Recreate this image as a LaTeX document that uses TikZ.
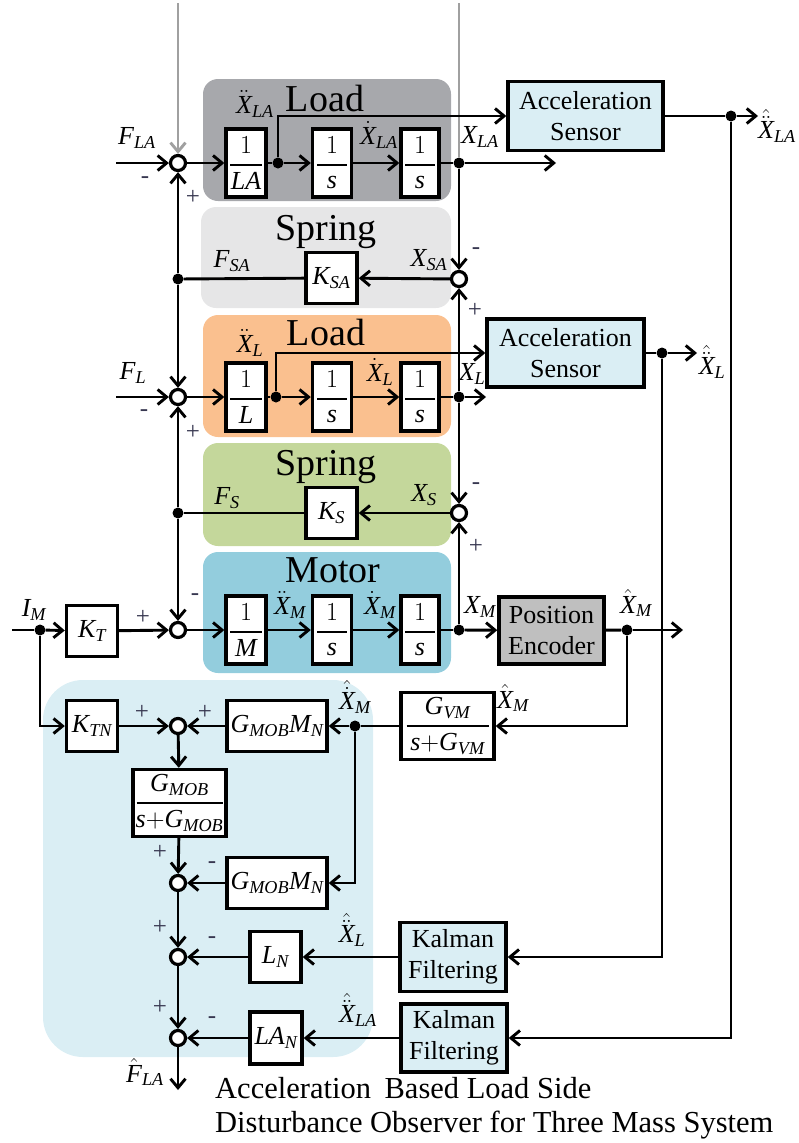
\documentclass[tikz,border=0pt]{standalone}
\usepackage{fix-cm}
\usepackage{fontspec}
\setmainfont{Liberation Serif}
\DeclareSymbolFont{letters}{TU}{\rmdefault}{m}{it}
\usetikzlibrary{arrows.meta}
\definecolor{cLoadA}{RGB}{167,168,172}
\definecolor{cSpringA}{RGB}{230,230,231}
\definecolor{cLoadL}{RGB}{250,192,143}
\definecolor{cSpringS}{RGB}{196,215,155}
\definecolor{cMotor}{RGB}{147,205,221}
\definecolor{cObs}{RGB}{218,238,244}
\definecolor{cSens}{RGB}{218,238,244}
\definecolor{cEnc}{RGB}{191,191,191}
\definecolor{cGrayLn}{RGB}{160,160,160}
\definecolor{cSign}{RGB}{55,55,80}
\newcommand\fr[3]{$\displaystyle{\hbox to#1{\hss$#2$\hss}\above2pt\hbox to#1{\hss$#3$\hss}}$}
\tikzset{
  ln/.style={line width=2.9pt},
  arr/.style={line width=2.9pt, -{Straight Barb[length=9pt,width=15pt]}},
  blk/.style={draw, line width=3.4pt, fill=white, inner sep=0pt, font=\fontsize{26}{30}\selectfont},
  sq/.style={blk, minimum width=51pt, minimum height=51pt},
  fb/.style={blk, minimum width=40pt, minimum height=68pt},
  sumj/.style={circle, draw, line width=3.2pt, fill=white, minimum size=15pt, inner sep=0pt},
  jdot/.style={circle, fill, minimum size=11pt, inner sep=0pt},
  lbl/.style={font=\fontsize{26}{30}\selectfont, inner sep=0pt},
  sgn/.style={font=\fontsize{25}{27}\selectfont, inner sep=0pt, text=cSign},
  ttl/.style={font=\fontsize{38}{40}\selectfont, anchor=base, inner sep=0pt},
  txtbox/.style={blk, align=center, font=\fontsize{26}{31}\selectfont},
}
\begin{document}
\begin{tikzpicture}[x=1pt,y=-1pt]
\useasboundingbox (0,0) rectangle (799,1143);
% coloured regions
\fill[cLoadA, rounded corners=15pt] (203,79) rectangle (451,201);
\fill[cSpringA, rounded corners=15pt] (201,207) rectangle (451,308);
\fill[cLoadL, rounded corners=15pt] (203,315) rectangle (451,437);
\fill[cSpringS, rounded corners=15pt] (203,443) rectangle (451,546);
\fill[cMotor, rounded corners=15pt] (203,552) rectangle (451,673);
\fill[cObs, rounded corners=40pt] (43,680) rectangle (373,1057);
% titles
\node[ttl] (tLA) at (325,111) {Load};
\node[ttl] (tSA) at (326,240) {Spring};
\node[ttl] (tL) at (326,345) {Load};
\node[ttl] (tS) at (326,475) {Spring};
\node[ttl] (tM) at (333,582) {Motor};
% free ends
\coordinate (gA) at (178,3);
\coordinate (gB) at (459,3);
\coordinate (inLA) at (116,163);
\coordinate (oLA) at (556,163);
\coordinate (oS1) at (758,116);
\coordinate (inL) at (116,397);
\coordinate (oL) at (486,397);
\coordinate (oS2) at (697,353);
\coordinate (inM) at (12,630);
\coordinate (oM) at (683,630);
\coordinate (oF) at (178,1090);
% top load row
\node[sumj] (sLA) at (178,163) {};
\node[fb] (bLA) at (246,163) {\fr{32pt}{1}{LA}};
\node[jdot] (dLA1) at (278,163) {};
\node[fb, minimum width=39pt] (bLAs1) at (332,163) {\fr{30pt}{1}{s}};
\node[fb, minimum width=38pt] (bLAs2) at (420,163) {\fr{30pt}{1}{s}};
\node[jdot] (dLA2) at (459,163) {};
\node[txtbox, fill=cSens, minimum width=155pt, minimum height=69pt] (sens1) at (585.5,116) {Acceleration\\Sensor};
\node[jdot] (dS1) at (731,116) {};
% spring A
\node[sumj] (sSA) at (459,279) {};
\node[sq] (KSA) at (331.5,278) {$K_{SA}$};
\node[jdot] (dFSA) at (178,279) {};
% load L row
\node[sumj] (sL) at (178,397) {};
\node[fb] (bL) at (246,397) {\fr{32pt}{1}{L}};
\node[jdot] (dL1) at (276,397) {};
\node[fb, minimum width=39pt] (bLs1) at (332,397) {\fr{30pt}{1}{s}};
\node[fb, minimum width=38pt] (bLs2) at (420,397) {\fr{30pt}{1}{s}};
\node[jdot] (dL2) at (459,397) {};
\node[txtbox, fill=cSens, minimum width=157pt, minimum height=68pt] (sens2) at (565.5,353) {Acceleration\\Sensor};
\node[jdot] (dS2) at (662,353) {};
% spring S
\node[sumj] (sS) at (459,513) {};
\node[sq] (KS) at (331.5,513) {$K_{S}$};
\node[jdot] (dFS) at (178,513) {};
% motor row
\node[jdot] (dIM) at (40,630) {};
\node[sq] (KT) at (92,631) {$K_{T}$};
\node[sumj] (sM) at (178,630) {};
\node[fb] (bM) at (246,630) {\fr{32pt}{1}{M}};
\node[fb, minimum width=39pt] (bMs1) at (332,630) {\fr{30pt}{1}{s}};
\node[fb, minimum width=38pt] (bMs2) at (420,630) {\fr{30pt}{1}{s}};
\node[jdot] (dM) at (459,630) {};
\node[txtbox, fill=cEnc, minimum width=105pt, minimum height=67pt] (enc) at (551.5,630.5) {Position\\Encoder};
\node[jdot] (dXM) at (627,630) {};
% observer
\node[sq] (KTN) at (92,726) {$K_{TN}$};
\node[sumj] (sO1) at (178,726) {};
\node[blk, minimum width=100pt, minimum height=51pt] (GM1) at (277,726) {$G_{MOB}M_N$};
\node[jdot] (dV) at (355,726) {};
\node[blk, minimum width=93pt, minimum height=67pt] (GVM) at (447.5,726) {\fr{82pt}{G_{VM}}{s{+}G_{VM}}};
\node[blk, minimum width=93pt, minimum height=67pt] (GF) at (179.5,803) {\fr{86pt}{G_{MOB}}{s{+}G_{MOB}}};
\node[sumj] (sO2) at (178,883) {};
\node[blk, minimum width=100pt, minimum height=51pt] (GM2) at (277,883) {$G_{MOB}M_N$};
\node[sumj] (sO3) at (178,957) {};
\node[sq] (LN) at (275.5,957) {$L_N$};
\node[txtbox, fill=cSens, minimum width=106pt, minimum height=69pt] (K1) at (453,957) {Kalman\\Filtering};
\node[sumj] (sO4) at (178,1038) {};
\node[sq, minimum width=52pt, minimum height=52pt] (LAN) at (276,1038) {$LA_N$};
\node[txtbox, fill=cSens, minimum width=106pt, minimum height=68pt] (K2) at (454,1038) {Kalman\\Filtering};
% connectors
\draw[arr, cGrayLn] (gA) -- (sLA);
\draw[ln, cGrayLn] (gB) -- (dLA2);
\draw[arr] (inLA) -- (sLA);
\draw[arr] (sLA) -- (bLA);
\draw[ln] (bLA) -- (dLA1);
\draw[arr] (dLA1) -- (bLAs1);
\draw[arr] (bLAs1) -- (bLAs2);
\draw[ln] (bLAs2) -- (dLA2);
\draw[arr] (dLA2) -- (oLA);
\draw[arr] (dLA1) |- (sens1);
\draw[ln] (sens1) -- (dS1);
\draw[arr] (dS1) -- (oS1);
\draw[arr] (dS1) |- (K2);
\draw[arr] (dLA2) -- (sSA);
\draw[arr] (dL2) -- (sSA);
\draw[arr] (sSA) -- (KSA);
\draw[ln] (KSA) -- (dFSA);
\draw[arr] (dFSA) -- (sLA);
\draw[arr] (dFSA) -- (sL);
\draw[arr] (inL) -- (sL);
\draw[arr] (sL) -- (bL);
\draw[ln] (bL) -- (dL1);
\draw[arr] (dL1) -- (bLs1);
\draw[arr] (bLs1) -- (bLs2);
\draw[ln] (bLs2) -- (dL2);
\draw[arr] (dL2) -- (oL);
\draw[arr] (dL1) |- (sens2);
\draw[ln] (sens2) -- (dS2);
\draw[arr] (dS2) -- (oS2);
\draw[arr] (dS2) |- (K1);
\draw[arr] (dL2) -- (sS);
\draw[arr] (dM) -- (sS);
\draw[arr] (sS) -- (KS);
\draw[ln] (KS) -- (dFS);
\draw[arr] (dFS) -- (sL);
\draw[arr] (dFS) -- (sM);
\draw[ln] (inM) -- (dIM);
\draw[arr] (dIM) -- (KT);
\draw[arr] (KT) -- (sM);
\draw[arr] (sM) -- (bM);
\draw[arr] (bM) -- (bMs1);
\draw[arr] (bMs1) -- (bMs2);
\draw[ln] (bMs2) -- (dM);
\draw[arr] (dM) -- (enc);
\draw[ln] (enc) -- (dXM);
\draw[arr] (dXM) -- (oM);
\draw[arr] (dIM) |- (KTN);
\draw[arr] (KTN) -- (sO1);
\draw[arr] (GM1) -- (sO1);
\draw[arr] (dV) -- (GM1);
\draw[ln] (GVM) -- (dV);
\draw[arr] (dXM) |- (GVM);
\draw[arr] (sO1) -- (GF);
\draw[arr] (GF) -- (sO2);
\draw[arr] (dV) |- (GM2);
\draw[arr] (GM2) -- (sO2);
\draw[arr] (sO2) -- (sO3);
\draw[arr] (LN) -- (sO3);
\draw[arr] (K1) -- (LN);
\draw[arr] (sO3) -- (sO4);
\draw[arr] (LAN) -- (sO4);
\draw[arr] (K2) -- (LAN);
\draw[arr] (sO4) -- (oF);
% signal labels
\node[lbl] (lFLA) at (137,138) {$F_{LA}$};
\node[lbl] (lXddLA) at (255,104) {$\ddot{X}_{LA}$};
\node[lbl] (lXdLA) at (379,135) {$\dot{X}_{LA}$};
\node[lbl] (lXLA) at (480,137) {$X_{LA}$};
\node[lbl] (lXhLA) at (777,126) {$\hat{\ddot{X}}_{LA}$};
\node[lbl] (lFSA) at (232,261) {$F_{SA}$};
\node[lbl] (lXSA) at (429,260) {$X_{SA}$};
\node[lbl] (lFL) at (133,373) {$F_{L}$};
\node[lbl] (lXddL) at (250,343) {$\ddot{X}_{L}$};
\node[lbl] (lXdL) at (380,372) {$\dot{X}_{L}$};
\node[lbl] (lXL) at (472,374) {$X_{L}$};
\node[lbl] (lXhL) at (712,362) {$\hat{\ddot{X}}_{L}$};
\node[lbl] (lFS) at (227,498) {$F_{S}$};
\node[lbl] (lXS) at (424,495) {$X_{S}$};
\node[lbl] (lIM) at (34,610) {$I_{M}$};
\node[lbl] (lXddM) at (290,605) {$\ddot{X}_{M}$};
\node[lbl] (lXdM) at (380,605) {$\dot{X}_{M}$};
\node[lbl] (lXM) at (480,607) {$X_{M}$};
\node[lbl] (lXhM) at (636,603) {$\hat{X}_{M}$};
\node[lbl] (lXhdM) at (355,697) {$\hat{\dot{X}}_{M}$};
\node[lbl] (lXhM2) at (513,698) {$\hat{X}_{M}$};
\node[lbl] (lXhL2) at (352,930) {$\hat{\ddot{X}}_{L}$};
\node[lbl] (lXhLA2) at (358,1010) {$\hat{\ddot{X}}_{LA}$};
\node[lbl] (lFhLA) at (145,1072) {$\hat{F}_{LA}$};
% signs
\node[sgn] at (145,180) {-};
\node[sgn] at (193,197) {+};
\node[sgn] at (476,251) {-};
\node[sgn] at (475,310) {+};
\node[sgn] at (144,413) {-};
\node[sgn] at (193,432) {+};
\node[sgn] at (476,486) {-};
\node[sgn] at (476,546) {+};
\node[sgn] at (143,617) {+};
\node[sgn] at (195,597) {-};
\node[sgn] at (142,712) {+};
\node[sgn] at (205,712) {+};
\node[sgn] at (160,852) {+};
\node[sgn] at (212,865) {-};
\node[sgn] at (160,927) {+};
\node[sgn] at (212,940) {-};
\node[sgn] at (160,1007) {+};
\node[sgn] at (212,1020) {-};
% caption
\node[anchor=base west, inner sep=0pt, font=\fontsize{30.5}{33}\selectfont] (cap1) at (215,1098) {Acceleration\hspace{6pt} Based Load Side};
\node[anchor=base west, inner sep=0pt, font=\fontsize{30.5}{33}\selectfont] (cap2) at (215,1132) {Disturbance Observer for Three Mass System};
\end{tikzpicture}
\end{document}
